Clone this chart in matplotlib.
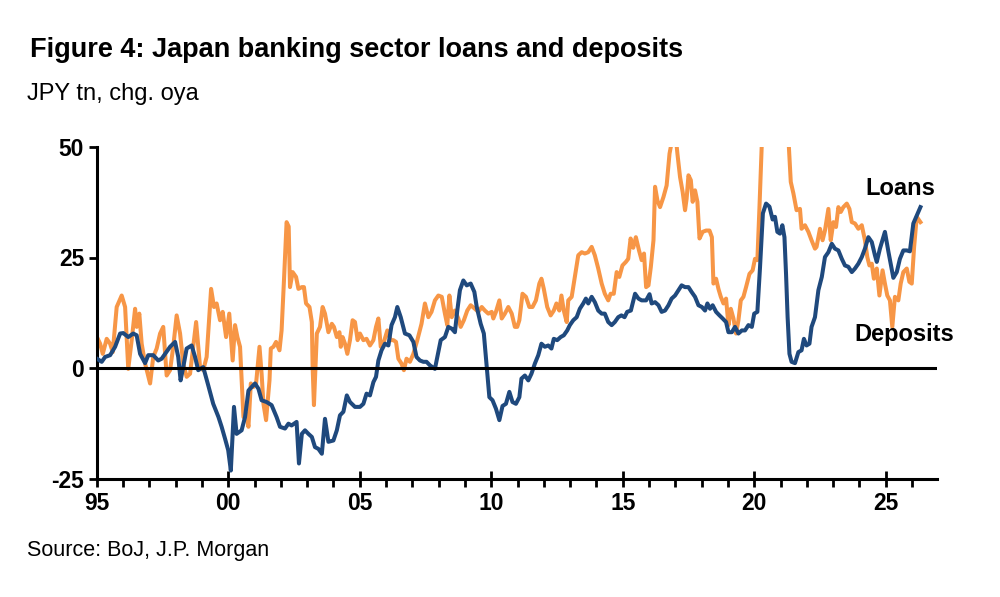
import matplotlib
matplotlib.use("Agg")
import matplotlib.pyplot as plt
from matplotlib.ticker import MultipleLocator, FixedLocator

plt.rcParams['font.family'] = ['Liberation Sans Narrow', 'Liberation Sans', 'DejaVu Sans']

# ---------------- data ----------------
loans_years = [
    1995.01, 1995.19, 1995.32, 1995.51, 1995.70, 1995.89, 1996.01, 1996.20, 1996.39, 1996.52,
    1996.65, 1996.84, 1996.96, 1997.15, 1997.34, 1997.47, 1997.60, 1997.79, 1997.98, 1998.10,
    1998.19, 1998.29, 1998.42, 1998.61, 1998.74, 1998.86, 1999.05, 1999.24, 1999.43, 1999.63,
    1999.75, 1999.88, 2000.00, 2000.10, 2000.22, 2000.32, 2000.51, 2000.64, 2000.77, 2000.89,
    2001.02, 2001.15, 2001.27, 2001.46, 2001.65, 2001.84, 2001.97, 2002.16, 2002.29, 2002.41,
    2002.60, 2002.69, 2002.80, 2002.92, 2003.05, 2003.18, 2003.30, 2003.43, 2003.56, 2003.68,
    2003.81, 2004.00, 2004.13, 2004.25, 2004.38, 2004.51, 2004.63, 2004.82, 2005.01, 2005.14,
    2005.26, 2005.39, 2005.52, 2005.62, 2005.71, 2005.83, 2005.96, 2006.09, 2006.21, 2006.34,
    2006.43, 2006.56, 2006.72, 2006.89, 2007.04, 2007.16, 2007.29, 2007.42, 2007.54, 2007.67,
    2007.86, 2007.95, 2008.08, 2008.24, 2008.37, 2008.50, 2008.62, 2008.71, 2008.81, 2008.94,
    2009.07, 2009.22, 2009.36, 2009.45, 2009.60, 2009.72, 2009.83, 2009.93, 2010.05, 2010.18,
    2010.31, 2010.43, 2010.56, 2010.69, 2010.81, 2010.94, 2011.07, 2011.15, 2011.28, 2011.41,
    2011.53, 2011.66, 2011.79, 2011.91, 2012.04, 2012.17, 2012.29, 2012.38, 2012.51, 2012.64,
    2012.76, 2012.89, 2012.99, 2013.12, 2013.25, 2013.37, 2013.50, 2013.60, 2013.69, 2013.82,
    2013.94, 2014.07, 2014.20, 2014.32, 2014.45, 2014.58, 2014.70, 2014.83, 2014.95, 2015.07,
    2015.17, 2015.31, 2015.47, 2015.60, 2015.72, 2015.89, 2016.02, 2016.10, 2016.23, 2016.36,
    2016.48, 2016.61, 2016.74, 2016.86, 2016.99, 2017.12, 2017.24, 2017.37, 2017.50, 2017.62,
    2017.75, 2017.88, 2018.01, 2018.13, 2018.22, 2018.32, 2018.42, 2018.55, 2018.68, 2018.80,
    2018.93, 2019.02, 2019.15, 2019.27, 2019.40, 2019.53, 2019.65, 2019.78, 2019.91, 2020.00,
    2020.12, 2020.22, 2020.33, 2020.45, 2020.58, 2020.70, 2020.79, 2020.88, 2020.98, 2021.07,
    2021.15, 2021.21, 2021.27, 2021.34, 2021.42, 2021.55, 2021.68, 2021.80, 2021.89, 2021.99,
    2022.10, 2022.18, 2022.31, 2022.44, 2022.57, 2022.69, 2022.82, 2022.95, 2023.07, 2023.20,
    2023.33, 2023.45, 2023.58, 2023.71, 2023.83, 2023.96, 2024.09, 2024.21, 2024.34, 2024.47,
    2024.59, 2024.66, 2024.78, 2024.97, 2025.10, 2025.29, 2025.42, 2025.54, 2025.67, 2025.80,
    2025.92, 2026.05, 2026.18, 2026.32,
]
loans_values = [
    2.1, 1.4, 2.5, 2.9, 4.8, 7.8, 7.9, 7.0, 7.8, 7.4,
    3.2, 1.1, 2.9, 2.9, 1.7, 2.1, 3.2, 4.8, 5.9, 2.5,
    -2.8, 0.2, 4.4, 5.1, 2.5, -0.5, 0.2, -3.9, -8.1, -11.1,
    -13.3, -16.0, -18.6, -23.2, -8.8, -14.9, -14.1, -11.1, -5.1, -4.3,
    -3.5, -4.7, -7.3, -7.7, -8.4, -11.1, -13.3, -13.7, -12.6, -13.0,
    -12.2, -21.6, -14.9, -14.1, -14.9, -15.6, -17.9, -18.3, -19.4, -11.5,
    -16.7, -16.4, -14.1, -10.7, -9.9, -6.2, -7.7, -8.8, -8.8, -8.1,
    -5.8, -6.2, -3.2, -2.0, 1.7, 4.0, 5.5, 5.1, 9.7, 11.5,
    13.8, 11.5, 7.8, 7.4, 5.9, 2.5, 1.7, 1.4, 1.4, 0.6,
    -0.2, 2.5, 6.3, 7.0, 9.3, 8.9, 8.1, 13.0, 17.6, 19.8,
    18.7, 19.1, 17.2, 13.8, 10.0, 7.8, 0.2, -6.6, -7.3, -9.2,
    -11.8, -8.6, -8.1, -5.4, -7.7, -8.1, -6.6, -2.4, -1.7, -2.8,
    -1.3, 1.0, 2.9, 5.5, 4.8, 5.1, 4.4, 6.6, 6.3, 7.0,
    7.4, 8.5, 9.7, 10.8, 11.5, 13.4, 14.6, 15.7, 14.6, 16.1,
    14.9, 13.0, 12.3, 12.3, 10.4, 9.7, 10.4, 11.5, 11.9, 11.5,
    12.7, 13.0, 16.8, 15.7, 15.3, 15.3, 16.7, 14.6, 14.9, 14.2,
    12.7, 13.0, 14.2, 15.7, 16.4, 17.6, 18.7, 18.3, 18.3, 17.2,
    16.1, 14.2, 13.8, 13.0, 14.6, 13.4, 14.2, 12.7, 11.9, 11.2,
    10.4, 8.1, 8.1, 9.3, 7.8, 8.5, 8.5, 9.7, 9.3, 12.3,
    12.7, 22.7, 35.0, 37.2, 36.5, 33.6, 34.2, 30.8, 30.4, 32.3,
    29.6, 21.3, 11.5, 3.2, 1.4, 1.1, 3.6, 4.0, 6.6, 5.1,
    5.5, 9.3, 11.5, 17.6, 20.6, 25.1, 26.2, 28.1, 27.0, 26.6,
    24.7, 23.2, 22.9, 21.7, 22.5, 23.6, 25.1, 27.0, 29.6, 28.5,
    25.5, 24.0, 27.0, 30.8, 26.4, 20.4, 21.7, 24.7, 26.6, 26.6,
    26.4, 32.7, 34.5, 36.4,
]

deposits_years = [
    1995.01, 1995.13, 1995.23, 1995.38, 1995.51, 1995.61, 1995.76, 1995.95, 1996.08, 1996.20,
    1996.33, 1996.46, 1996.52, 1996.62, 1996.71, 1996.84, 1997.03, 1997.15, 1997.28, 1997.41,
    1997.53, 1997.66, 1997.79, 1997.91, 1998.04, 1998.17, 1998.29, 1998.42, 1998.55, 1998.67,
    1998.78, 1998.93, 1999.05, 1999.18, 1999.35, 1999.46, 1999.56, 1999.69, 1999.79, 1999.92,
    2000.04, 2000.17, 2000.26, 2000.35, 2000.45, 2000.58, 2000.68, 2000.77, 2000.86, 2000.96,
    2001.06, 2001.19, 2001.27, 2001.34, 2001.44, 2001.57, 2001.62, 2001.72, 2001.82, 2001.95,
    2002.03, 2002.12, 2002.22, 2002.30, 2002.35, 2002.45, 2002.58, 2002.67, 2002.80, 2002.88,
    2002.96, 2003.09, 2003.18, 2003.21, 2003.26, 2003.31, 2003.37, 2003.49, 2003.59, 2003.68,
    2003.81, 2003.94, 2004.02, 2004.13, 2004.23, 2004.28, 2004.35, 2004.44, 2004.53, 2004.63,
    2004.73, 2004.82, 2004.92, 2005.01, 2005.14, 2005.26, 2005.39, 2005.52, 2005.62, 2005.71,
    2005.80, 2005.92, 2006.05, 2006.18, 2006.28, 2006.38, 2006.47, 2006.59, 2006.68, 2006.78,
    2006.91, 2007.04, 2007.19, 2007.35, 2007.48, 2007.61, 2007.73, 2007.86, 2007.99, 2008.12,
    2008.24, 2008.33, 2008.41, 2008.50, 2008.62, 2008.75, 2008.84, 2008.96, 2009.09, 2009.22,
    2009.38, 2009.51, 2009.64, 2009.76, 2009.89, 2010.02, 2010.08, 2010.18, 2010.31, 2010.40,
    2010.52, 2010.65, 2010.78, 2010.90, 2010.99, 2011.07, 2011.19, 2011.32, 2011.45, 2011.57,
    2011.70, 2011.83, 2011.91, 2012.00, 2012.13, 2012.26, 2012.38, 2012.48, 2012.59, 2012.67,
    2012.76, 2012.87, 2012.93, 2013.06, 2013.18, 2013.31, 2013.44, 2013.56, 2013.69, 2013.82,
    2013.94, 2014.07, 2014.20, 2014.32, 2014.45, 2014.54, 2014.66, 2014.77, 2014.87, 2014.99,
    2015.12, 2015.21, 2015.30, 2015.40, 2015.50, 2015.62, 2015.72, 2015.81, 2015.89, 2015.98,
    2016.07, 2016.17, 2016.23, 2016.32, 2016.42, 2016.55, 2016.67, 2016.78, 2016.86, 2016.99,
    2017.08, 2017.18, 2017.28, 2017.37, 2017.43, 2017.50, 2017.59, 2017.66, 2017.75, 2017.84,
    2017.92, 2018.04, 2018.17, 2018.30, 2018.39, 2018.45, 2018.55, 2018.64, 2018.73, 2018.83,
    2018.93, 2019.02, 2019.11, 2019.21, 2019.31, 2019.40, 2019.49, 2019.59, 2019.69, 2019.82,
    2019.94, 2020.03, 2020.12, 2020.20, 2020.29, 2020.45, 2020.65, 2020.90, 2021.10, 2021.30,
    2021.39, 2021.49, 2021.61, 2021.74, 2021.80, 2021.93, 2022.06, 2022.18, 2022.31, 2022.37,
    2022.50, 2022.60, 2022.69, 2022.82, 2022.91, 2023.01, 2023.11, 2023.20, 2023.29, 2023.39,
    2023.52, 2023.62, 2023.71, 2023.83, 2023.96, 2024.09, 2024.21, 2024.30, 2024.38, 2024.47,
    2024.55, 2024.66, 2024.76, 2024.88, 2024.97, 2025.06, 2025.16, 2025.25, 2025.35, 2025.48,
    2025.57, 2025.67, 2025.80, 2025.90, 2025.99, 2026.08, 2026.18, 2026.32,
]
deposits_values = [
    7.0, 5.5, 3.2, 6.6, 5.5, 3.6, 13.8, 16.4, 13.8, -0.2,
    6.3, 13.4, 9.3, 12.3, 5.5, 1.0, -3.5, 2.5, 4.4, 7.8,
    9.3, -1.7, -0.5, 4.8, 11.9, 7.8, 1.0, -2.0, -1.3, 4.8,
    10.4, 0.2, -0.5, 2.5, 17.9, 13.8, 14.6, 10.8, 12.7, 7.0,
    12.3, 1.7, 9.7, 7.0, 4.8, -11.1, -10.3, -13.3, -3.5, -4.3,
    -3.5, 4.8, -1.3, -8.1, -11.8, -2.8, 4.4, 4.8, 5.9, 4.0,
    8.5, 19.8, 33.0, 32.0, 18.3, 21.7, 20.6, 17.9, 18.3, 18.3,
    14.6, 13.8, 10.4, 0.2, -8.4, -1.3, 7.8, 9.3, 13.8, 12.3,
    8.1, 10.0, 9.3, 7.0, 8.1, 4.8, 7.0, 5.5, 3.2, 6.3,
    10.8, 10.4, 6.3, 7.8, 6.3, 6.6, 5.1, 6.3, 9.3, 11.2,
    4.8, 5.9, 8.5, 6.3, 6.3, 5.9, 2.1, 1.0, -0.5, 2.1,
    1.4, 3.2, 6.3, 10.0, 14.6, 11.5, 12.7, 15.3, 16.4, 16.1,
    12.3, 9.7, 16.4, 11.5, 13.0, 11.2, 9.3, 10.8, 13.0, 14.2,
    13.4, 12.7, 13.8, 13.0, 12.3, 12.7, 11.2, 12.7, 15.3, 11.2,
    12.3, 13.8, 12.3, 9.3, 9.3, 10.8, 16.8, 16.1, 13.8, 13.8,
    15.3, 19.1, 20.2, 17.9, 13.8, 11.9, 13.0, 14.6, 13.0, 16.4,
    13.0, 10.4, 15.3, 16.1, 20.6, 25.5, 26.2, 25.9, 26.2, 27.4,
    25.5, 22.5, 19.1, 16.8, 15.3, 16.8, 16.8, 21.7, 20.6, 23.2,
    24.0, 24.7, 29.3, 27.2, 29.6, 26.6, 24.4, 25.9, 18.3, 18.7,
    22.9, 28.9, 41.0, 37.9, 36.4, 38.7, 41.3, 48.5, 51.0, 54.0,
    48.5, 43.2, 39.8, 35.7, 38.3, 43.6, 42.5, 37.6, 40.2, 37.6,
    29.3, 30.8, 31.1, 31.1, 29.6, 19.1, 20.2, 17.9, 16.1, 14.6,
    15.7, 9.7, 13.4, 11.2, 7.8, 10.8, 15.3, 16.1, 18.3, 21.3,
    22.1, 24.7, 24.4, 36.4, 51.0, 65.0, 80.0, 85.0, 70.0, 52.0,
    42.1, 39.5, 35.7, 36.0, 31.5, 32.3, 30.8, 28.9, 27.0, 27.4,
    31.5, 28.9, 31.1, 36.0, 28.9, 33.0, 31.9, 36.4, 35.3, 36.4,
    37.2, 36.0, 33.0, 32.7, 31.5, 32.3, 28.9, 25.1, 23.2, 23.6,
    20.2, 22.5, 16.4, 22.1, 19.1, 16.4, 15.3, 9.3, 16.1, 15.3,
    19.1, 21.7, 22.5, 19.5, 19.1, 27.4, 34.2, 33.0,
]

x_tick_years = [1995, 2000, 2005, 2010, 2015, 2020, 2025]
x_tick_labels = ["95", "00", "05", "10", "15", "20", "25"]
y_ticks = [-25, 0, 25, 50]

title = "Figure 4: Japan banking sector loans and deposits"
subtitle = "JPY tn, chg. oya"
source = "Source: BoJ, J.P. Morgan"

# ---------------- figure ----------------
W, H = 1000, 597
fig = plt.figure(figsize=(W / 100, H / 100), dpi=100)
ax = fig.add_axes([96.7 / W, 1 - 478.5 / H, (937 - 96.7) / W, (478.5 - 147) / H])

blue = "#1F497D"
orange = "#F79646"

ax.plot(loans_years, loans_values, color=blue, lw=2.9, solid_joinstyle="round", zorder=3)
ax.plot(deposits_years, deposits_values, color=orange, lw=2.9, solid_joinstyle="round", zorder=2)
ax.axhline(0, color="black", lw=2.2, zorder=4)

ax.set_xlim(1995, 2026.95)
ax.set_ylim(-25, 50)

for s in ["top", "right"]:
    ax.spines[s].set_visible(False)
for s in ["left", "bottom"]:
    ax.spines[s].set_linewidth(2.2)

ax.set_yticks(y_ticks)
ax.set_yticklabels([str(v) for v in y_ticks], fontsize=16.5, fontweight="bold")
ax.tick_params(axis="y", direction="out", length=6, width=2.0, pad=3)

ax.xaxis.set_major_locator(FixedLocator(x_tick_years))
ax.set_xticklabels(x_tick_labels, fontsize=16.5, fontweight="bold")
ax.xaxis.set_minor_locator(MultipleLocator(1))
ax.tick_params(axis="x", which="major", direction="inout", length=12, width=2.0, pad=4)
ax.tick_params(axis="x", which="minor", direction="out", length=5.5, width=2.0)

ax.text(2026.9, 40.6, "Loans", fontsize=17, fontweight="bold", ha="right", va="center")
ax.text(2027.6, 7.5, "Deposits", fontsize=17, fontweight="bold", ha="right", va="center",
        clip_on=False)

fig.text(30 / W, 1 - 57 / H, title, fontsize=19.5, fontweight="bold", ha="left", va="baseline")
fig.text(27 / W, 1 - 100 / H, subtitle, fontsize=17, ha="left", va="baseline")
fig.text(27 / W, 1 - 556 / H, source, fontsize=15.5, ha="left", va="baseline")

fig.savefig("out.png", dpi=100)
